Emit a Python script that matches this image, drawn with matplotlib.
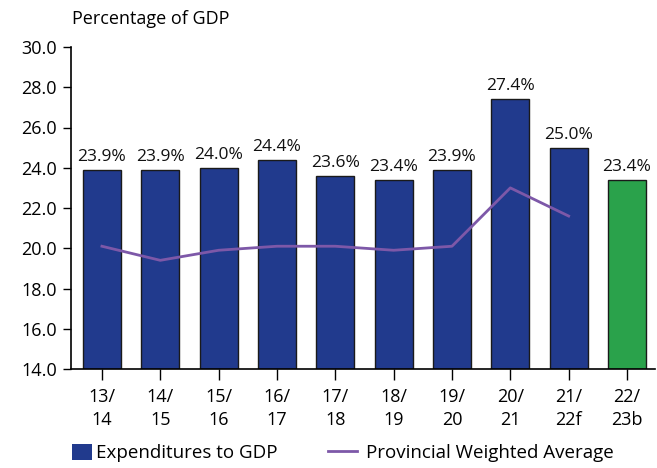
import matplotlib
matplotlib.use("Agg")
import matplotlib.pyplot as plt
from matplotlib.patches import Patch
from matplotlib.lines import Line2D

categories = ["13/\n14", "14/\n15", "15/\n16", "16/\n17", "17/\n18",
              "18/\n19", "19/\n20", "20/\n21", "21/\n22f", "22/\n23b"]
expenditures = [23.9, 23.9, 24.0, 24.4, 23.6, 23.4, 23.9, 27.4, 25.0, 23.4]
provincial_avg = [20.1, 19.4, 19.9, 20.1, 20.1, 19.9, 20.1, 23.0, 21.6]
yticks = [14.0, 16.0, 18.0, 20.0, 22.0, 24.0, 26.0, 28.0, 30.0]

blue = "#213a8d"
green = "#2aa24b"
purple = "#7d58a8"

plt.rcParams["font.family"] = ["Open Sans", "DejaVu Sans"]

fig = plt.figure(figsize=(6.57, 4.68), dpi=100)
ax = fig.add_axes([71 / 657, 1 - 369 / 468, (655 - 71) / 657, (369 - 47) / 468])

x = list(range(len(categories)))
colors = [blue] * (len(categories) - 1) + [green]
ax.bar(x, [v - 14 for v in expenditures], bottom=14, width=0.65,
       color=colors, edgecolor="#1a1a1a", linewidth=1.0, zorder=2)
for xi, v in zip(x, expenditures):
    ax.text(xi, v + 0.25, f"{v:.1f}%", ha="center", va="bottom", fontsize=12.5,
            color="#111111")

ax.plot(x[:len(provincial_avg)], provincial_avg, color=purple, linewidth=2, zorder=3)

ax.set_ylim(14, 30)
ax.set_xlim(-0.53, 9.48)
ax.set_yticks(yticks)
ax.set_yticklabels([f"{t:.1f}" for t in yticks])
ax.set_xticks(x)
ax.set_xticklabels(categories, linespacing=1.3)
ax.tick_params(axis="y", labelsize=13, length=6, width=1, direction="out", pad=4)
ax.tick_params(axis="x", labelsize=13, length=8, width=1, direction="out", pad=6)

for side in ("top", "right"):
    ax.spines[side].set_visible(False)
for side in ("left", "bottom"):
    ax.spines[side].set_linewidth(1.2)

fig.text(72 / 657, 1 - 19 / 468, "Percentage of GDP", ha="left", va="center",
         fontsize=13)

legend_y = 1 - 453 / 468
leg1 = fig.legend([Patch(facecolor=blue, edgecolor="none")], ["Expenditures to GDP"],
                  loc="center left", bbox_to_anchor=(72 / 657, legend_y),
                  frameon=False, fontsize=13.5, handlelength=1.05, handleheight=0.95,
                  handletextpad=0.25, borderpad=0, borderaxespad=0)
leg2 = fig.legend([Line2D([0], [0], color=purple, linewidth=2)],
                  ["Provincial Weighted Average"],
                  loc="center left", bbox_to_anchor=(328 / 657, legend_y),
                  frameon=False, fontsize=13.5, handlelength=1.55,
                  handletextpad=0.45, borderpad=0, borderaxespad=0)

fig.savefig("out.png", dpi=100)
